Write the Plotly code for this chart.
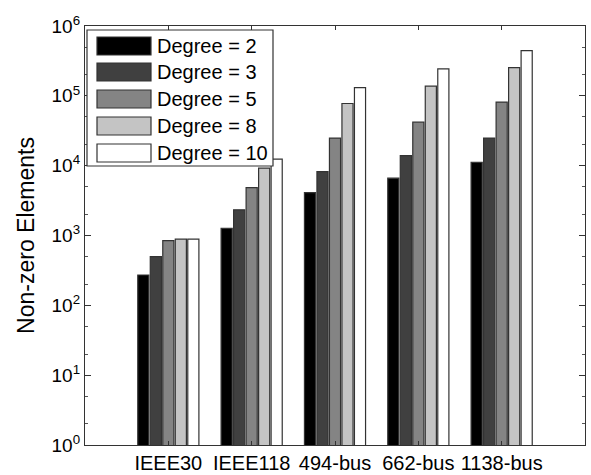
import plotly.graph_objects as go

categories = ["IEEE30", "IEEE118", "494-bus", "662-bus", "1138-bus"]
series_names = ["Degree = 2", "Degree = 3", "Degree = 5", "Degree = 8", "Degree = 10"]
deg2 = [272, 1270, 4120, 6620, 11200]
deg3 = [499, 2330, 8240, 13960, 24800]
deg5 = [845, 4860, 24800, 42000, 81300]
deg8 = [885, 9200, 77600, 137700, 254000]
deg10 = [885, 12400, 131500, 243700, 445000]
series_values = [deg2, deg3, deg5, deg8, deg10]
colors = ["#000000", "#404040", "#848484", "#c4c4c4", "#ffffff"]
ytick_vals = [1, 10, 100, 1000, 10000, 100000, 1000000]
ytick_text = ["10<sup>%d</sup>" % i for i in range(7)]

xpos = list(range(1, len(categories) + 1))

fig = go.Figure()
for name, vals, col in zip(series_names, series_values, colors):
    fig.add_trace(go.Bar(
        x=xpos, y=vals, name=name,
        marker=dict(color=col, line=dict(color="#333333", width=1.2)),
        showlegend=False,
    ))

font_family = "Liberation Sans, Arial, sans-serif"

fig.update_layout(
    width=591, height=475,
    margin=dict(l=85, r=6, t=26, b=30),
    paper_bgcolor="white", plot_bgcolor="white",
    barmode="group", bargap=0.25, bargroupgap=0.11,
    font=dict(family=font_family, size=18, color="black"),
)
fig.update_xaxes(
    range=[0, 6], tickvals=xpos, ticktext=categories, automargin=False,
    ticks="inside", ticklen=4, tickcolor="#333333",
    showline=True, linecolor="#333333", linewidth=1.2, mirror="ticks",
    showgrid=False, zeroline=False,
    tickfont=dict(size=20, family=font_family),
)
fig.update_yaxes(
    type="log", range=[0, 6], tickvals=ytick_vals, ticktext=ytick_text, automargin=False,
    ticks="inside", ticklen=6, tickcolor="#333333",
    minor=dict(ticks="inside", ticklen=3, tickcolor="#555555", showgrid=False),
    showline=True, linecolor="#333333", linewidth=1.2, mirror="ticks",
    showgrid=False, zeroline=False,
    tickfont=dict(size=19, family=font_family),
    title=dict(text="Non-zero Elements", font=dict(size=23, family=font_family), standoff=10),
)

# pixel -> paper conversion for layout-only elements
W, H = 591, 475
L, R, T, B = 85, 6, 26, 30
pw, ph = W - L - R, H - T - B

def px(xp):
    return (xp - L) / pw

def py(yp):
    return 1 - (yp - T) / ph

# legend box
fig.add_shape(type="rect", xref="paper", yref="paper",
              x0=px(87), x1=px(273), y0=py(166), y1=py(30),
              line=dict(color="#333333", width=1.2), fillcolor="white", layer="above")
row_y = [46, 72, 99, 126, 153]
for name, col, yy in zip(series_names, colors, row_y):
    fig.add_shape(type="rect", xref="paper", yref="paper",
                  x0=px(97), x1=px(151), y0=py(yy + 9), y1=py(yy - 9),
                  line=dict(color="#333333", width=1.2), fillcolor=col, layer="above")
    fig.add_annotation(xref="paper", yref="paper", x=px(155), y=py(yy),
                       text=name, showarrow=False, xanchor="left", yanchor="middle",
                       font=dict(size=20, family=font_family, color="black"))

fig.write_html("out.html", config={"displayModeBar": False},
               post_script="document.body.style.margin='0';document.body.style.padding='0';")
